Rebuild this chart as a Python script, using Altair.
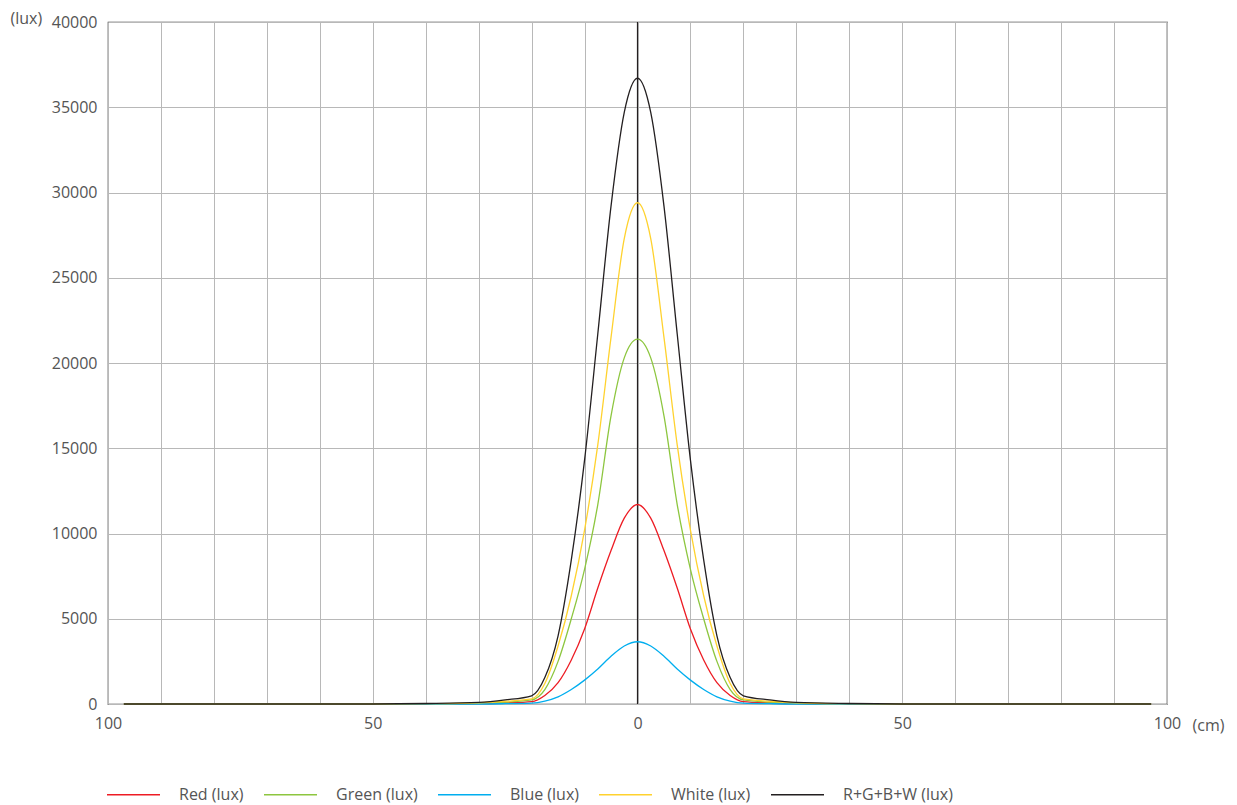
import altair as alt
import pandas as pd

# x positions (cm)
half = [0, 2.5, 5, 7.5, 10, 12.5, 15, 17.5, 20, 25, 30, 40, 50, 60, 70, 80, 90, 97]
xs = [-v for v in half[::-1]] + half[1:]

def sym(vals):
    return vals[::-1] + vals[1:]

# values (lux) from center outwards
red_half = [11700, 10900, 9000, 6800, 4400, 2580, 1250, 500, 140, 60, 20, 0, 0, 0, 0, 0, 0, 0]
green_half = [21400, 20300, 16900, 11700, 7900, 5000, 2500, 850, 240, 110, 45, 12, 0, 0, 0, 0, 0, 0]
blue_half = [3650, 3400, 2800, 2050, 1400, 850, 420, 170, 50, 18, 0, 0, 0, 0, 0, 0, 0, 0]
white_half = [29400, 27300, 21500, 15200, 10200, 6350, 3400, 1200, 300, 160, 70, 18, 0, 0, 0, 0, 0, 0]
total_half = [36700, 34700, 29200, 21700, 14300, 8450, 4000, 1550, 480, 240, 95, 28, 0, 0, 0, 0, 0, 0]

series_names = ["Red (lux)", "Green (lux)", "Blue (lux)", "White (lux)", "R+G+B+W (lux)"]
series_colors = ["#ed1c24", "#8dc63f", "#00aeef", "#ffd22e", "#231f20"]
series_vals = [red_half, green_half, blue_half, white_half, total_half]
draw_order = {"R+G+B+W (lux)": 0, "Red (lux)": 1, "Blue (lux)": 2, "Green (lux)": 3, "White (lux)": 4}

rows = []
for name, vals in zip(series_names, series_vals):
    for x, y in zip(xs, sym(vals)):
        rows.append({"x": x, "y": y, "series": name, "ord": draw_order[name]})
df = pd.DataFrame(rows)

FONT = "Open Sans"
FS = 16
x_ticks = list(range(-100, 101, 10))
y_ticks = list(range(0, 40001, 5000))

lines = alt.Chart(df).mark_line(interpolate="monotone", strokeWidth=1.3).encode(
    x=alt.X("x:Q", scale=alt.Scale(domain=[-100, 100], nice=False),
            axis=alt.Axis(values=x_ticks, title="(cm)", titleAngle=0,
                          titleX=1084, titleY=21, titleAlign="left", titleBaseline="middle",
                          titleFont=FONT, titleFontSize=FS, titleFontWeight="normal", titleColor="#555555",
                          labelExpr="datum.value % 50 == 0 ? format(abs(datum.value), 'd') : ''",
                          labelFlush=False, labelOverlap=False, labelPadding=11,
                          ticks=False, domain=False, grid=True)),
    y=alt.Y("y:Q", scale=alt.Scale(domain=[0, 40000], nice=False),
            axis=alt.Axis(values=y_ticks, title="(lux)", titleAngle=0,
                          titleX=-98, titleY=-4, titleAlign="left", titleBaseline="middle",
                          titleFont=FONT, titleFontSize=FS, titleFontWeight="normal", titleColor="#555555",
                          format="d", labelPadding=11, ticks=False, domain=False, grid=True)),
    color=alt.Color("series:N", scale=alt.Scale(domain=series_names, range=series_colors),
                    legend=alt.Legend(title=None, orient="none", direction="horizontal",
                                      legendX=-2, legendY=745, symbolType="stroke",
                                      symbolSize=2809, symbolStrokeWidth=1.5, labelOffset=18,
                                      columnPadding=17, padding=0, labelFont=FONT,
                                      labelFontSize=FS, labelColor="#555555")),
    order=alt.Order("ord:Q"),
    detail="series:N",
)

center = alt.Chart(pd.DataFrame({"x": [0]})).mark_rule(color="#231f20", strokeWidth=1.2).encode(x="x:Q")

chart = alt.layer(center, lines).properties(
    width=1059, height=682,
    autosize=alt.AutoSizeParams(type="none"),
    padding={"left": 100, "top": 14, "right": 60, "bottom": 105},
).configure_view(
    stroke="#333333", strokeWidth=1.2
).configure_axis(
    gridColor="#b8b8b8", gridWidth=1, labelFont=FONT, labelFontSize=FS, labelColor="#555555"
)

chart.save("out.html", embed_options={"renderer": "svg", "actions": False})
